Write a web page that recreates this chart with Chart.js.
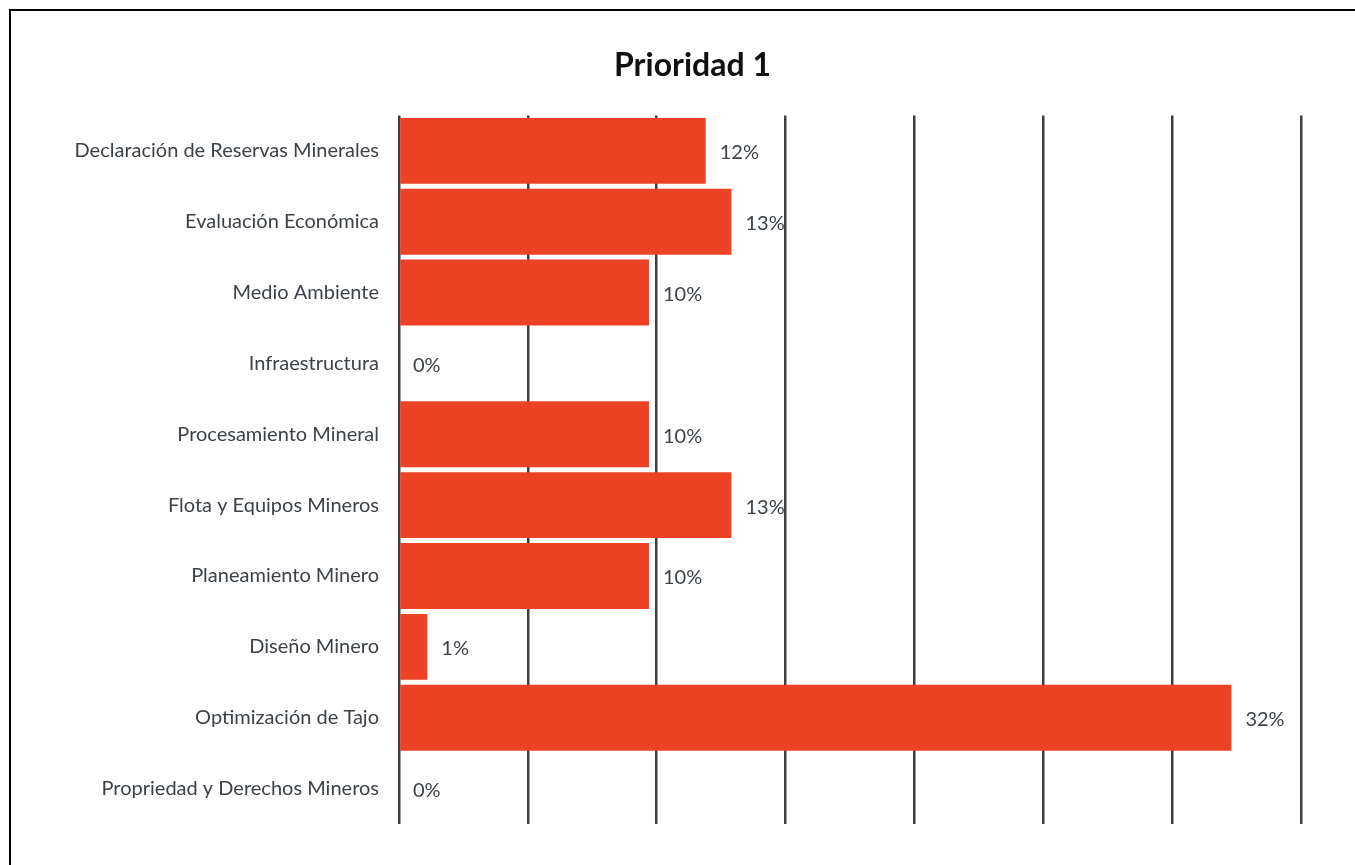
<!DOCTYPE html>
<html>
<head>
<meta charset="utf-8">
<script src="https://cdn.jsdelivr.net/npm/chart.js@4.4.0/dist/chart.umd.min.js"></script>
<style>
    html, body { margin: 0; padding: 0; background: #fff; overflow: hidden; }
    .frame {
        position: absolute; left: 9px; top: 9px;
        width: 1400px; height: 900px;
        border-left: 2px solid #000; border-top: 2px solid #000;
    }
    .wrap { position: absolute; left: 15px; top: 0; width: 1355px; height: 865px; }
</style>
</head>
<body>
<div class="frame"></div>
<div class="wrap"><canvas id="prioChart"></canvas></div>
<script>
// Datos
const categorias = [
    'Declaración de Reservas Minerales',
    'Evaluación Económica',
    'Medio Ambiente',
    'Infraestructura',
    'Procesamiento Mineral',
    'Flota y Equipos Mineros',
    'Planeamiento Minero',
    'Diseño Minero',
    'Optimización de Tajo',
    'Propriedad y Derechos Mineros'
];
const valores = [11.9, 12.9, 9.7, 0, 9.7, 12.9, 9.7, 1.1, 32.3, 0];
const etiquetas = ['12%', '13%', '10%', '0%', '10%', '13%', '10%', '1%', '32%', '0%'];

const FONT = 'Lato, "Open Sans", sans-serif';
const TEXT_COLOR = '#3d4249';

// etiquetas al final de cada barra
const valueLabels = {
    id: 'valueLabels',
    afterDatasetsDraw(chart) {
        const ctx = chart.ctx;
        const meta = chart.getDatasetMeta(0);
        ctx.save();
        ctx.font = '20px ' + FONT;
        ctx.fillStyle = TEXT_COLOR;
        ctx.textAlign = 'left';
        ctx.textBaseline = 'middle';
        meta.data.forEach((bar, i) => {
            ctx.fillText(etiquetas[i], bar.x + 14, bar.y + 2);
        });
        ctx.restore();
    }
};

const ctx = document.getElementById('prioChart').getContext('2d');
new Chart(ctx, {
    type: 'bar',
    data: {
        labels: categorias,
        datasets: [{
            data: valores,
            backgroundColor: '#ee4227',
            borderWidth: 0,
            barPercentage: 0.93,
            categoryPercentage: 1
        }]
    },
    options: {
        indexAxis: 'y',
        responsive: true,
        maintainAspectRatio: false,
        animation: false,
        layout: { padding: { left: 0, right: 0, top: 0, bottom: 41 } },
        plugins: {
            legend: { display: false },
            tooltip: { enabled: false },
            title: {
                display: true,
                text: 'Prioridad 1',
                color: '#111',
                font: { family: FONT, size: 32, weight: 'bold' },
                padding: { top: 46, bottom: 31 }
            }
        },
        scales: {
            x: {
                min: 0,
                max: 35,
                ticks: { display: false, stepSize: 5 },
                grid: { color: '#3b3e43', lineWidth: 2.5, drawTicks: false },
                border: { display: false },
                afterFit(scale) { scale.height = 0; }
            },
            y: {
                ticks: {
                    color: TEXT_COLOR,
                    padding: 20,
                    font: { family: FONT, size: 20 }
                },
                grid: { display: false, drawTicks: false },
                border: { display: false },
                afterFit(scale) { scale.width = 384; }
            },
            // eje vacío a la derecha, solo deja margen
            yRight: {
                type: 'category',
                position: 'right',
                ticks: { display: false },
                grid: { display: false, drawTicks: false },
                border: { display: false },
                afterFit(scale) { scale.width = 69; }
            }
        }
    },
    plugins: [valueLabels]
});
</script>
</body>
</html>
